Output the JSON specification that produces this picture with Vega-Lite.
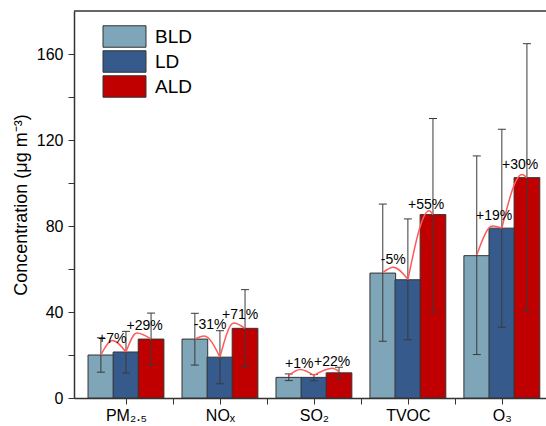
{
  "$schema": "https://vega.github.io/schema/vega-lite/v6.json",
  "autosize": {"type": "none"},
  "width": 472,
  "height": 387,
  "padding": {"left": 74, "top": 11, "right": 0, "bottom": 28},
  "background": "white",
  "config": {
    "view": {"stroke": null},
    "font": "Liberation Sans",
    "axis": {"grid": false, "domainColor": "#333", "domainWidth": 1.5, "tickColor": "#333", "tickWidth": 1, "tickSize": 6, "labelFont": "Liberation Sans", "labelFontSize": 16, "labelColor": "#000", "titleFont": "Liberation Sans", "titleFontSize": 18, "titleFontWeight": "normal", "titleColor": "#000"}
  },
  "datasets": {
    "bars": [
      {"slot": 0.733, "group": "BLD", "value": 20, "lo": 12, "hi": 28},
      {"slot": 1.0, "group": "LD", "value": 21.4, "lo": 11.6, "hi": 31},
      {"slot": 1.267, "group": "ALD", "value": 27.4, "lo": 15.4, "hi": 39.5},
      {"slot": 1.733, "group": "BLD", "value": 27.4, "lo": 15.3, "hi": 39.4},
      {"slot": 2.0, "group": "LD", "value": 19, "lo": 6.6, "hi": 31.3},
      {"slot": 2.267, "group": "ALD", "value": 32.4, "lo": 14.3, "hi": 50.4},
      {"slot": 2.733, "group": "BLD", "value": 9.6, "lo": 8.1, "hi": 11.2},
      {"slot": 3.0, "group": "LD", "value": 9.6, "lo": 8, "hi": 10.9},
      {"slot": 3.267, "group": "ALD", "value": 11.7, "lo": 9, "hi": 14.3},
      {"slot": 3.733, "group": "BLD", "value": 58.1, "lo": 26.4, "hi": 90.2},
      {"slot": 4.0, "group": "LD", "value": 55, "lo": 27.1, "hi": 83.3},
      {"slot": 4.267, "group": "ALD", "value": 85.3, "lo": 40, "hi": 130},
      {"slot": 4.733, "group": "BLD", "value": 66.2, "lo": 20.2, "hi": 112.6},
      {"slot": 5.0, "group": "LD", "value": 79, "lo": 32.9, "hi": 125},
      {"slot": 5.267, "group": "ALD", "value": 102.5, "lo": 40.3, "hi": 164.8}
    ],
    "arcs": [
      {"arc": 1, "ord": 1, "x": 0.733, "y": 20}, {"arc": 1, "ord": 2, "x": 0.854, "y": 26.7}, {"arc": 1, "ord": 3, "x": 1.0, "y": 21.4},
      {"arc": 2, "ord": 1, "x": 1.0, "y": 21.4}, {"arc": 2, "ord": 2, "x": 1.115, "y": 30.2}, {"arc": 2, "ord": 3, "x": 1.267, "y": 27.4},
      {"arc": 3, "ord": 1, "x": 1.733, "y": 27.4}, {"arc": 3, "ord": 2, "x": 1.833, "y": 28.8}, {"arc": 3, "ord": 3, "x": 2.0, "y": 19},
      {"arc": 4, "ord": 1, "x": 2.0, "y": 19}, {"arc": 4, "ord": 2, "x": 2.146, "y": 34.9}, {"arc": 4, "ord": 3, "x": 2.267, "y": 32.4},
      {"arc": 5, "ord": 1, "x": 2.733, "y": 10.5}, {"arc": 5, "ord": 2, "x": 2.854, "y": 13.3}, {"arc": 5, "ord": 3, "x": 3.0, "y": 10.5},
      {"arc": 6, "ord": 1, "x": 3.0, "y": 10.5}, {"arc": 6, "ord": 2, "x": 3.198, "y": 13.8}, {"arc": 6, "ord": 3, "x": 3.267, "y": 12.2},
      {"arc": 7, "ord": 1, "x": 3.733, "y": 58.3}, {"arc": 7, "ord": 2, "x": 3.844, "y": 60.8}, {"arc": 7, "ord": 3, "x": 4.0, "y": 55.2},
      {"arc": 8, "ord": 1, "x": 4.0, "y": 55}, {"arc": 8, "ord": 2, "x": 4.226, "y": 87.1}, {"arc": 8, "ord": 3, "x": 4.267, "y": 85.3},
      {"arc": 9, "ord": 1, "x": 4.733, "y": 66.5}, {"arc": 9, "ord": 2, "x": 4.9, "y": 80}, {"arc": 9, "ord": 3, "x": 5.0, "y": 79},
      {"arc": 10, "ord": 1, "x": 5.0, "y": 79}, {"arc": 10, "ord": 2, "x": 5.214, "y": 104}, {"arc": 10, "ord": 3, "x": 5.267, "y": 102.5}
    ],
    "labels": [
      {"x": 0.854, "y": 27.6, "text": "+7%"},
      {"x": 1.198, "y": 33.3, "text": "+29%"},
      {"x": 1.896, "y": 34, "text": "-31%"},
      {"x": 2.214, "y": 38.6, "text": "+71%"},
      {"x": 2.844, "y": 16, "text": "+1%"},
      {"x": 3.193, "y": 16.7, "text": "+22%"},
      {"x": 3.844, "y": 64.4, "text": "-5%"},
      {"x": 4.194, "y": 90, "text": "+55%"},
      {"x": 4.917, "y": 84.7, "text": "+19%"},
      {"x": 5.194, "y": 108.4, "text": "+30%"}
    ]
  },
  "layer": [
    {
      "data": {"name": "bars"},
      "mark": {"type": "bar", "size": 25.7, "stroke": "#333", "strokeWidth": 1, "clip": true},
      "encoding": {
        "x": {"field": "slot", "type": "quantitative", "scale": {"domain": [0.5, 5.4167], "nice": false, "zero": false},
          "axis": {"title": null, "values": [1, 1.5, 2, 2.5, 3, 3.5, 4, 4.5, 5], "labelPadding": 3,
            "labelExpr": "datum.value == 1 ? 'PM₂.₅' : datum.value == 2 ? 'NOₓ' : datum.value == 3 ? 'SO₂' : datum.value == 4 ? 'TVOC' : datum.value == 5 ? 'O₃' : ''"}},
        "y": {"field": "value", "type": "quantitative", "scale": {"domain": [0, 180], "nice": false},
          "axis": {"title": "Concentration (μg m⁻³)", "values": [0, 20, 40, 60, 80, 100, 120, 140, 160], "labelPadding": 5, "titlePadding": 6,
            "labelExpr": "datum.value % 40 == 0 ? datum.label : ''"}},
        "fill": {"field": "group", "type": "nominal",
          "scale": {"domain": ["BLD", "LD", "ALD"], "range": ["#7fa5b8", "#375a8c", "#c00000"]},
          "legend": {"orient": "none", "legendX": 39, "legendY": 14, "title": null, "padding": 0,
            "symbolType": "M-2,-1H2V1H-2Z", "symbolSize": 462, "symbolStrokeColor": "#333", "symbolStrokeWidth": 1,
            "symbolOpacity": 1, "labelFontSize": 19, "labelFont": "Liberation Sans", "labelColor": "#000", "labelOffset": 19, "rowPadding": -2}}
      }
    },
    {
      "data": {"name": "bars"},
      "mark": {"type": "rule", "color": "#3a3a3a", "strokeWidth": 1, "clip": true},
      "encoding": {
        "x": {"field": "slot", "type": "quantitative"},
        "y": {"field": "lo", "type": "quantitative"},
        "y2": {"field": "hi"}
      }
    },
    {
      "data": {"name": "bars"},
      "mark": {"type": "tick", "orient": "horizontal", "size": 8, "thickness": 1, "color": "#3a3a3a", "opacity": 1, "clip": true},
      "encoding": {
        "x": {"field": "slot", "type": "quantitative"},
        "y": {"field": "hi", "type": "quantitative"}
      }
    },
    {
      "data": {"name": "bars"},
      "mark": {"type": "tick", "orient": "horizontal", "size": 8, "thickness": 1, "color": "#3a3a3a", "opacity": 1, "clip": true},
      "encoding": {
        "x": {"field": "slot", "type": "quantitative"},
        "y": {"field": "lo", "type": "quantitative"}
      }
    },
    {
      "data": {"name": "arcs"},
      "mark": {"type": "line", "interpolate": "monotone", "stroke": "#ff5a5a", "strokeWidth": 1.5},
      "encoding": {
        "x": {"field": "x", "type": "quantitative"},
        "y": {"field": "y", "type": "quantitative"},
        "detail": {"field": "arc"},
        "order": {"field": "ord"}
      }
    },
    {
      "data": {"name": "labels"},
      "mark": {"type": "text", "fontSize": 14, "font": "Liberation Sans", "color": "#000", "baseline": "middle", "align": "center"},
      "encoding": {
        "x": {"field": "x", "type": "quantitative"},
        "y": {"field": "y", "type": "quantitative"},
        "text": {"field": "text"}
      }
    },
    {
      "data": {"values": [{"v": 180}]},
      "mark": {"type": "rule", "color": "#333", "strokeWidth": 1.5},
      "encoding": {
        "y": {"field": "v", "type": "quantitative"}
      }
    }
  ]
}
